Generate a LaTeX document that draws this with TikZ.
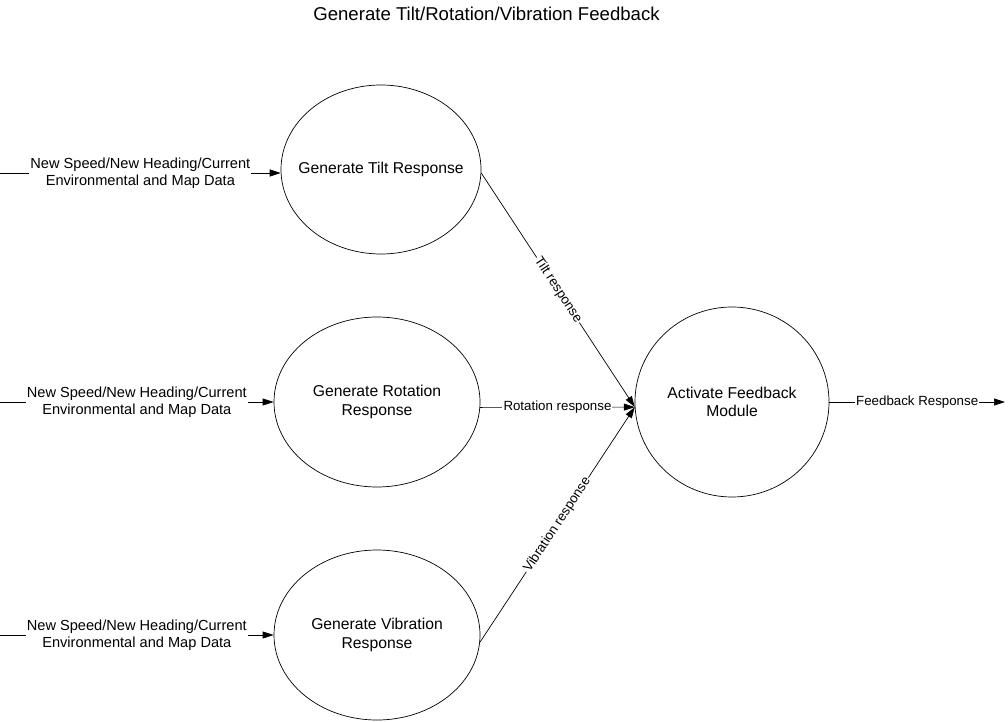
\documentclass[tikz,border=0pt]{standalone}
\usepackage{fontspec}
\setmainfont{Liberation Sans}
\usetikzlibrary{arrows.meta,shapes.geometric}
\begin{document}
\begin{tikzpicture}[x=1pt,y=1pt,
  proc/.style={draw,ellipse,line width=0.7pt,inner xsep=-40pt,inner ysep=-10pt,align=center,
    font=\fontsize{15.7}{18.7}\selectfont},
  arr/.style={draw,line width=0.7pt,-{Triangle[length=11pt,width=7pt]}},
  inlbl/.style={fill=white,inner sep=1pt,align=center,font=\fontsize{14.6}{17.5}\selectfont},
  elbl/.style={fill=white,inner sep=1pt,font=\fontsize{13.3}{16}\selectfont},
  ttl/.style={font=\fontsize{18.6}{22}\selectfont,inner sep=0pt}]
\useasboundingbox (0,0) rectangle (1008,721);
\coordinate (o) at (0,0);
\node[ttl,anchor=base] (title) at (486.5,700.3) {Generate Tilt/Rotation/Vibration Feedback};
\node[proc,minimum width=200pt,minimum height=169pt] (tilt) at (381,551.5) {Generate Tilt Response};
\node[proc,minimum width=206pt,minimum height=170pt] (rot) at (377,319) {Generate Rotation\\Response};
\node[proc,minimum width=206pt,minimum height=170pt] (vib) at (377,86) {Generate Vibration\\Response};
\node[proc,minimum width=194pt,minimum height=190pt] (act) at (732,319) {Activate Feedback\\Module};
\coordinate (out) at (1005,319);
\draw[arr] (tilt.182 -| o) -- node[inlbl]{New Speed/New Heading/Current\\Environmental and Map Data} (tilt.182);
\draw[arr] (rot.180 -| o) -- node[inlbl]{New Speed/New Heading/Current\\Environmental and Map Data} (rot.180);
\draw[arr] (vib.180 -| o) -- node[inlbl]{New Speed/New Heading/Current\\Environmental and Map Data} (vib.180);
\draw[arr] (tilt.-2) -- node[elbl,sloped]{Tilt response} (act.183);
\draw[arr] (rot.-3) -- node[elbl]{Rotation response} (act.183);
\draw[arr] (vib.-4) -- node[elbl,sloped]{Vibration response} (act.183);
\draw[arr] (act.east) -- node[elbl]{Feedback Response} (out);
\end{tikzpicture}
\end{document}
